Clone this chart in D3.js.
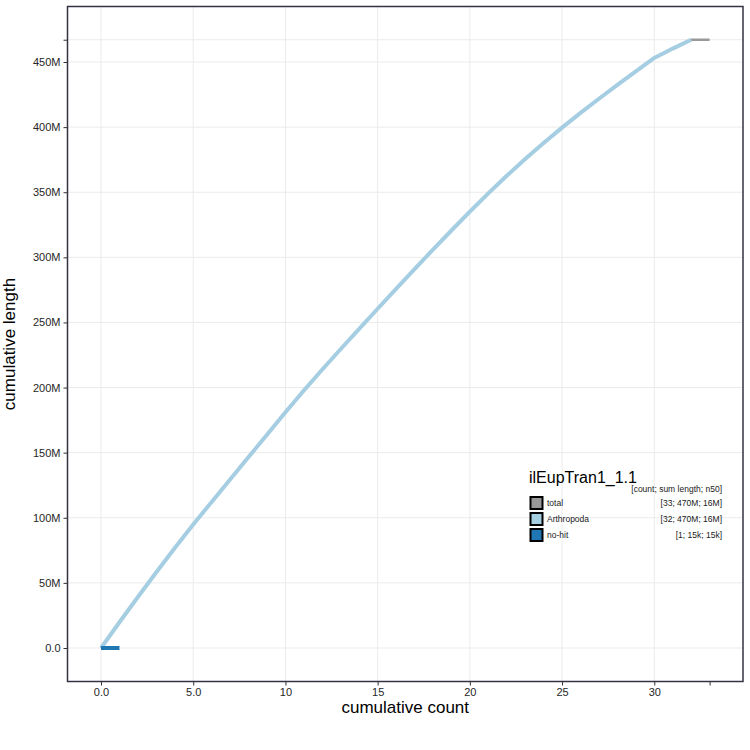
<!DOCTYPE html>
<html>
<head>
<meta charset="utf-8">
<script src="https://cdn.jsdelivr.net/npm/d3@7"></script>
<style>
  html, body { margin: 0; padding: 0; background: #fff; }
  text { font-family: "Liberation Sans", Arial, Helvetica, sans-serif; }
</style>
</head>
<body>
<svg id="chart" width="750" height="750"></svg>
<script>
// ---- data ----
const assemblyName = "ilEupTran1_1.1";
// cumulative count (scaffold index) and cumulative length (Mb)
const arthropodaCount = [0,1,2,3,4,5,6,7,8,9,10,11,12,13,14,15,16,17,18,19,20,21,22,23,24,25,26,27,28,29,30,31,32];
const arthropodaCumLen = [0,19.8,39.2,58.2,76.8,94.8,112.2,129.4,146.6,163.8,181.0,197.8,213.9,229.6,245.1,260.5,275.8,291.0,305.9,320.6,335.1,349.1,362.6,375.5,387.8,399.6,410.9,421.8,432.4,442.8,453.1,460.3,467.1];
const totalCount = [0,1,2,3,4,5,6,7,8,9,10,11,12,13,14,15,16,17,18,19,20,21,22,23,24,25,26,27,28,29,30,31,32,33];
const totalCumLen = [0,19.8,39.2,58.2,76.8,94.8,112.2,129.4,146.6,163.8,181.0,197.8,213.9,229.6,245.1,260.5,275.8,291.0,305.9,320.6,335.1,349.1,362.6,375.5,387.8,399.6,410.9,421.8,432.4,442.8,453.1,460.3,467.1,467.115];
const noHitCount = [0,1];
const noHitCumLen = [0,0.015];

const legendNames = ["total","Arthropoda","no-hit"];
const legendStats = ["[33; 470M; 16M]","[32; 470M; 16M]","[1; 15k; 15k]"];
const legendColors = ["#999999","#a6cee3","#1f78b4"];

const xTicks = [0,5,10,15,20,25,30,33];
const xTickLabels = ["0.0","5.0","10","15","20","25","30",""];
const yTicks = [0,50,100,150,200,250,300,350,400,450,467.1];
const yTickLabels = ["0.0","50M","100M","150M","200M","250M","300M","350M","400M","450M",""];

// ---- layout ----
const svg = d3.select("#chart");
const panel = {left: 67.5, right: 743, top: 6.5, bottom: 681.5};

const x = d3.scaleLinear().domain([0, 33]).range([101, 709.6]);
const y = d3.scaleLinear().domain([0, 450]).range([648, 62]);

// panel background
svg.append("rect").attr("x", panel.left).attr("y", panel.top)
  .attr("width", panel.right - panel.left).attr("height", panel.bottom - panel.top)
  .attr("fill", "#fff");

// grid
const grid = svg.append("g");
grid.selectAll("line.hy").data(yTicks).join("line")
  .attr("x1", panel.left).attr("x2", panel.right)
  .attr("y1", d => y(d)).attr("y2", d => y(d))
  .attr("stroke", "#ebebeb").attr("stroke-width", 1);
grid.selectAll("line.vx").data(xTicks.slice(0, 7)).join("line")
  .attr("y1", panel.top).attr("y2", panel.bottom)
  .attr("x1", d => x(d)).attr("x2", d => x(d))
  .attr("stroke", "#ebebeb").attr("stroke-width", 1);

// lines
const line = d3.line().x(d => x(d[0])).y(d => y(d[1]));
svg.append("path").datum(d3.zip(totalCount, totalCumLen))
  .attr("d", line).attr("fill", "none").attr("stroke", legendColors[0])
  .attr("stroke-width", 2.5);
svg.append("path").datum(d3.zip(arthropodaCount, arthropodaCumLen))
  .attr("d", line).attr("fill", "none").attr("stroke", legendColors[1])
  .attr("stroke-width", 4).attr("stroke-linejoin", "round");
svg.append("path").datum(d3.zip(noHitCount, noHitCumLen))
  .attr("d", line).attr("fill", "none").attr("stroke", legendColors[2])
  .attr("stroke-width", 4);

// axes
const xAxis = d3.axisBottom(x).tickValues(xTicks)
  .tickFormat((d, i) => xTickLabels[i]).tickSizeInner(4).tickSizeOuter(0).tickPadding(3);
const yAxis = d3.axisLeft(y).tickValues(yTicks)
  .tickFormat((d, i) => yTickLabels[i]).tickSizeInner(4).tickSizeOuter(0).tickPadding(3);

const gx = svg.append("g").attr("transform", `translate(0,${panel.bottom})`).call(xAxis);
const gy = svg.append("g").attr("transform", `translate(${panel.left},0)`).call(yAxis);
[gx, gy].forEach(g => {
  g.select(".domain").remove();
  g.selectAll(".tick line").attr("stroke", "#333").attr("stroke-width", 1);
  g.selectAll(".tick text").attr("fill", "#262626").style("font-size", "11px")
    .style("font-family", '"Liberation Sans", Arial, sans-serif');
});

// panel border
svg.append("rect").attr("x", panel.left).attr("y", panel.top)
  .attr("width", panel.right - panel.left).attr("height", panel.bottom - panel.top)
  .attr("fill", "none").attr("stroke", "#333344").attr("stroke-width", 1.5);

// axis titles
svg.append("text").attr("x", (panel.left + panel.right) / 2).attr("y", 713)
  .attr("text-anchor", "middle").style("font-size", "17px").attr("fill", "#000")
  .text("cumulative count");
svg.append("text")
  .attr("transform", `translate(15,${(panel.top + panel.bottom) / 2}) rotate(-90)`)
  .attr("text-anchor", "middle").style("font-size", "17px").attr("fill", "#000")
  .text("cumulative length");

// legend
const lg = svg.append("g");
lg.append("text").attr("x", 529).attr("y", 483).style("font-size", "16px").attr("fill", "#000")
  .text(assemblyName);
lg.append("text").attr("x", 722).attr("y", 492).attr("text-anchor", "end")
  .style("font-size", "8.5px").attr("fill", "#1a1a1a").text("[count; sum length; n50]");
const rows = lg.selectAll("g.row").data(legendNames).join("g")
  .attr("transform", (d, i) => `translate(0,${497 + i * 16})`);
rows.append("rect").attr("x", 530.5).attr("y", 0).attr("width", 12).attr("height", 12)
  .attr("fill", (d, i) => legendColors[i]).attr("stroke", "#000").attr("stroke-width", 2);
rows.append("text").attr("x", 547).attr("y", 9).style("font-size", "8.5px").attr("fill", "#1a1a1a")
  .text(d => d);
rows.append("text").attr("x", 722).attr("y", 9).attr("text-anchor", "end")
  .style("font-size", "8.5px").attr("fill", "#1a1a1a").text((d, i) => legendStats[i]);
</script>
</body>
</html>
